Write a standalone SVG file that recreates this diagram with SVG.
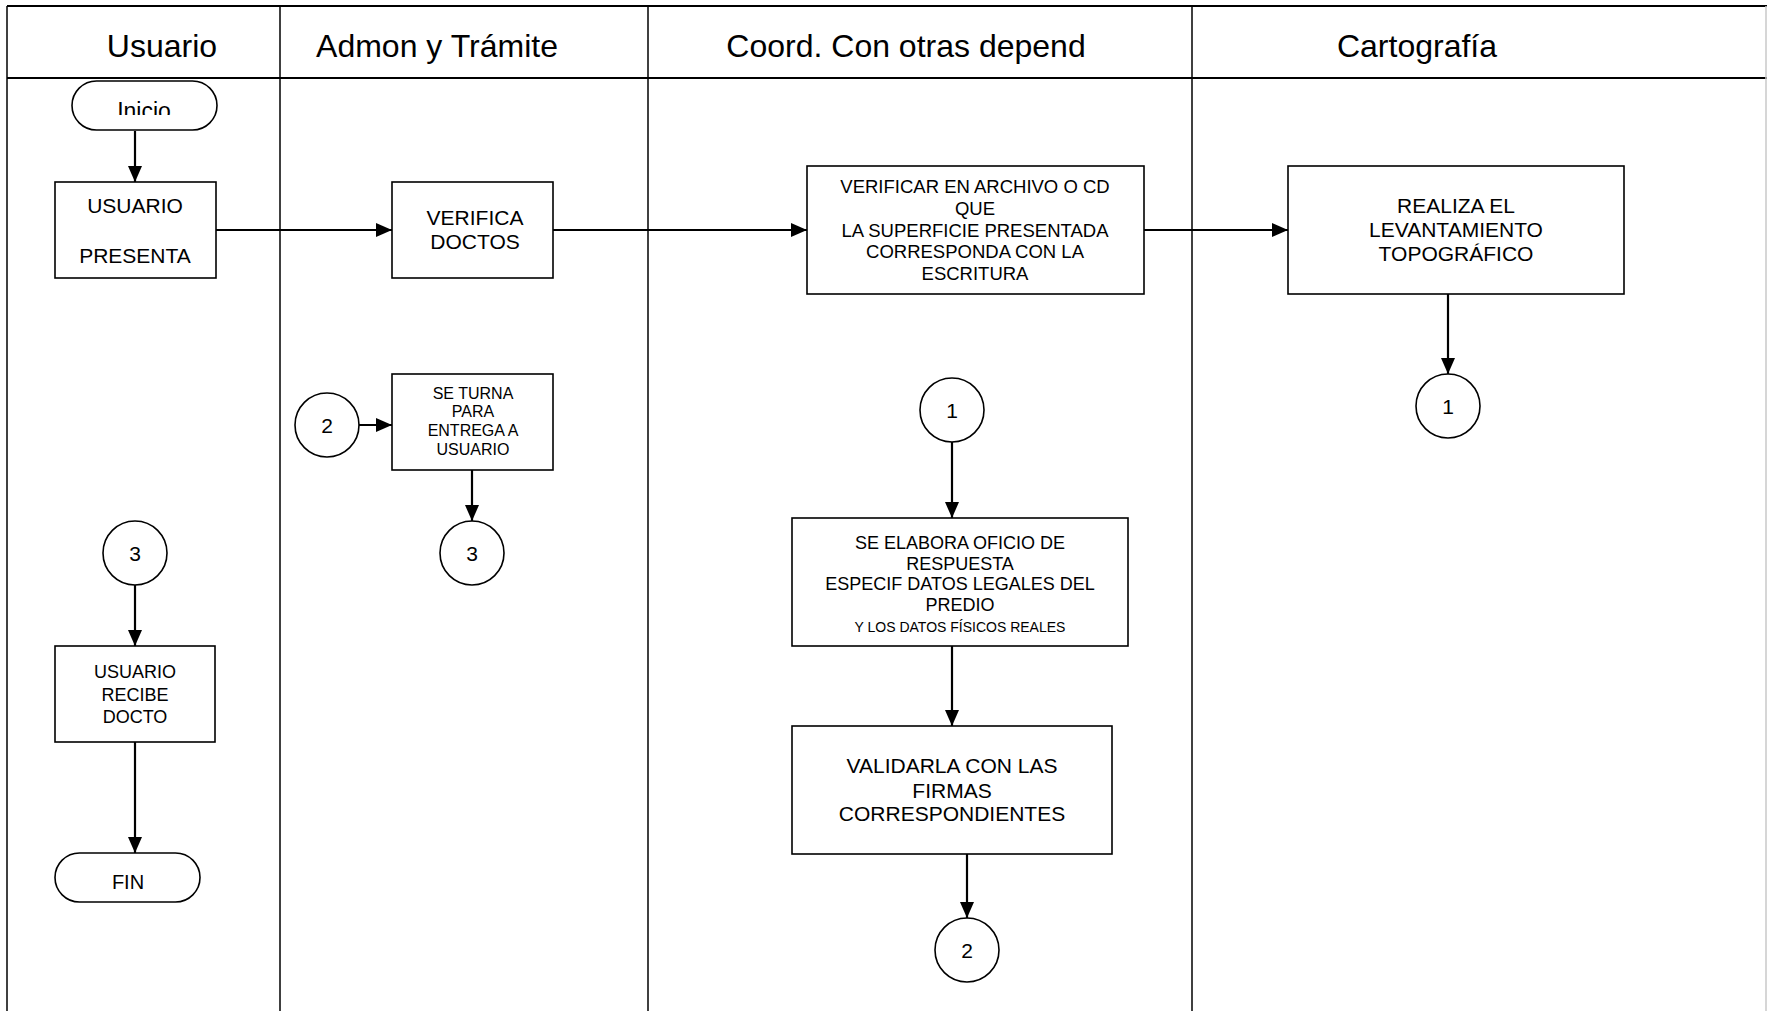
<svg xmlns="http://www.w3.org/2000/svg" width="1767" height="1011" viewBox="0 0 1767 1011">
<style>
  text { font-family: "Liberation Sans", Arial, sans-serif; fill: #000; text-anchor: middle; }
  .hdr { font-size: 32px; }
  .lane { stroke: #000; stroke-width: 1.5; fill: none; }
  .rule { stroke: #000; stroke-width: 2.2; fill: none; }
  .box { fill: #fff; stroke: #000; stroke-width: 1.6; }
  .conn { stroke: #000; stroke-width: 2.2; fill: none; marker-end: url(#arrow); }
  .t21 { font-size: 21px; }
  .t18 { font-size: 18px; }
  .t16 { font-size: 16px; }
  .t14 { font-size: 14px; }
</style>
<defs>
  <marker id="arrow" markerUnits="userSpaceOnUse" markerWidth="16" markerHeight="14" refX="16" refY="7" orient="auto">
    <path d="M0,0 L16,7 L0,14 Z" fill="#000"/>
  </marker>
  <clipPath id="inicioClip"><rect x="71" y="81" width="147" height="34"/></clipPath>
</defs>
<rect width="1767" height="1011" fill="#fff"/>
<g id="lanes">
  <line class="rule" x1="7" y1="6" x2="1767" y2="6"/>
  <line class="rule" x1="7" y1="78" x2="1767" y2="78"/>
  <line class="lane" x1="7" y1="6" x2="7" y2="1011"/>
  <line class="lane" x1="280" y1="6" x2="280" y2="1011"/>
  <line class="lane" x1="648" y1="6" x2="648" y2="1011"/>
  <line class="lane" x1="1192" y1="6" x2="1192" y2="1011"/>
  <line x1="1766" y1="6" x2="1766" y2="1011" stroke="#c8c8c8" stroke-width="1.5"/>
  <text class="hdr" x="162" y="57">Usuario</text>
  <text class="hdr" x="437" y="57">Admon y Trámite</text>
  <text class="hdr" x="906" y="57">Coord. Con otras depend</text>
  <text class="hdr" x="1417" y="57">Cartografía</text>
</g>
<g id="connectors">
  <path class="conn" d="M135,131 V182"/>
  <path class="conn" d="M216,230 H392"/>
  <path class="conn" d="M553,230 H807"/>
  <path class="conn" d="M1144,230 H1288"/>
  <path class="conn" d="M1448,294 V374"/>
  <path class="conn" d="M952,442 V518"/>
  <path class="conn" d="M952,646 V726"/>
  <path class="conn" d="M967,854 V918"/>
  <path class="conn" d="M359,425 H392"/>
  <path class="conn" d="M472,470 V521"/>
  <path class="conn" d="M135,585 V646"/>
  <path class="conn" d="M135,742 V853"/>
</g>
<g id="inicio">
  <rect class="box" x="72" y="81" width="145" height="49" rx="24.5"/>
  <text x="144" y="119" style="font-size:23px" clip-path="url(#inicioClip)">Inicio</text>
</g>
<g id="usuario-presenta">
  <rect class="box" x="55" y="182" width="161" height="96"/>
  <text class="t21" x="135" y="212.5">USUARIO</text>
  <text class="t21" x="135" y="262.5">PRESENTA</text>
</g>
<g id="verifica-doctos">
  <rect class="box" x="392" y="182" width="161" height="96"/>
  <text class="t21" x="475" y="225">VERIFICA</text>
  <text class="t21" x="475" y="249">DOCTOS</text>
</g>
<g id="verificar-archivo">
  <rect class="box" x="807" y="166" width="337" height="128"/>
  <text x="975" y="193" style="font-size:18.5px">VERIFICAR EN ARCHIVO O CD</text>
  <text x="975" y="215" style="font-size:18.5px">QUE</text>
  <text x="975" y="237" style="font-size:18.5px">LA SUPERFICIE PRESENTADA</text>
  <text x="975" y="258" style="font-size:18.5px">CORRESPONDA CON LA</text>
  <text x="975" y="280" style="font-size:18.5px">ESCRITURA</text>
</g>
<g id="realiza-levantamiento">
  <rect class="box" x="1288" y="166" width="336" height="128"/>
  <text class="t21" x="1456" y="213">REALIZA EL</text>
  <text class="t21" x="1456" y="237">LEVANTAMIENTO</text>
  <text class="t21" x="1456" y="261">TOPOGRÁFICO</text>
</g>
<g id="conector-1-cartografia">
  <circle class="box" cx="1448" cy="406" r="32"/>
  <text class="t21" x="1448" y="413.5">1</text>
</g>
<g id="conector-1-coord">
  <circle class="box" cx="952" cy="410" r="32"/>
  <text class="t21" x="952" y="417.5">1</text>
</g>
<g id="se-elabora-oficio">
  <rect class="box" x="792" y="518" width="336" height="128"/>
  <text class="t18" x="960" y="549">SE ELABORA OFICIO DE</text>
  <text class="t18" x="960" y="569.5">RESPUESTA</text>
  <text class="t18" x="960" y="590">ESPECIF DATOS LEGALES DEL</text>
  <text class="t18" x="960" y="610.5">PREDIO</text>
  <text class="t14" x="960" y="631.5">Y LOS DATOS FÍSICOS REALES</text>
</g>
<g id="validarla">
  <rect class="box" x="792" y="726" width="320" height="128"/>
  <text class="t21" x="952" y="773">VALIDARLA CON LAS</text>
  <text class="t21" x="952" y="797.5">FIRMAS</text>
  <text class="t21" x="952" y="821">CORRESPONDIENTES</text>
</g>
<g id="conector-2-coord">
  <circle class="box" cx="967" cy="950" r="32"/>
  <text class="t21" x="967" y="957.5">2</text>
</g>
<g id="conector-2-admon">
  <circle class="box" cx="327" cy="425" r="32"/>
  <text class="t21" x="327" y="432.5">2</text>
</g>
<g id="se-turna">
  <rect class="box" x="392" y="374" width="161" height="96"/>
  <text class="t16" x="473" y="399">SE TURNA</text>
  <text class="t16" x="473" y="417">PARA</text>
  <text class="t16" x="473" y="436">ENTREGA A</text>
  <text class="t16" x="473" y="455">USUARIO</text>
</g>
<g id="conector-3-admon">
  <circle class="box" cx="472" cy="553" r="32"/>
  <text class="t21" x="472" y="560.5">3</text>
</g>
<g id="conector-3-usuario">
  <circle class="box" cx="135" cy="553" r="32"/>
  <text class="t21" x="135" y="560.5">3</text>
</g>
<g id="usuario-recibe">
  <rect class="box" x="55" y="646" width="160" height="96"/>
  <text class="t18" x="135" y="678">USUARIO</text>
  <text class="t18" x="135" y="700.5">RECIBE</text>
  <text class="t18" x="135" y="722.5">DOCTO</text>
</g>
<g id="fin">
  <rect class="box" x="55" y="853" width="145" height="49" rx="24.5"/>
  <text x="128" y="889" style="font-size:20px">FIN</text>
</g>
</svg>
